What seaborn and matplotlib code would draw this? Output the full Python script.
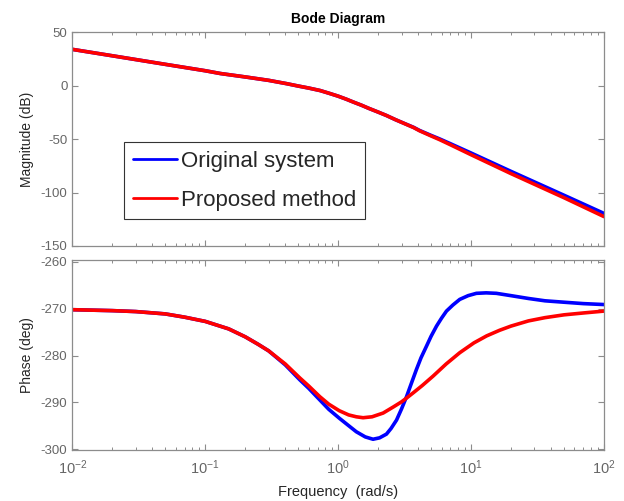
import numpy as np
import pandas as pd
import matplotlib
matplotlib.use("Agg")
import matplotlib.pyplot as plt
import seaborn as sns
from matplotlib.ticker import LogLocator, NullFormatter, FixedLocator

# ---- data ----
mag_freq = [0.01, 0.02, 0.05, 0.1, 0.13, 0.2, 0.3, 0.41, 0.5, 0.6, 0.73, 0.85, 1.0, 1.15,
            1.3, 1.5, 1.7, 2.0, 2.3, 2.7, 3.2, 3.7, 4.1, 5.0, 5.8, 7.0, 10.0, 20.0, 50.0, 100.0]
mag_original = [34.0, 28.0, 20.0, 14.0, 11.4, 8.2, 5.0, 1.9, -0.3, -2.2, -4.5, -7.0, -9.8, -12.6,
                -15.3, -18.3, -21.2, -24.7, -27.8, -31.8, -35.7, -39.0, -41.9, -46.5, -49.8,
                -54.3, -63.0, -80.2, -102.5, -119.5]
mag_proposed = [34.0, 28.0, 20.0, 14.0, 11.4, 8.2, 5.0, 1.9, -0.3, -2.2, -4.5, -7.0, -9.8, -12.6,
                -15.3, -18.3, -21.2, -24.7, -27.8, -31.8, -35.8, -39.2, -42.2, -47.0, -50.5,
                -55.3, -64.6, -82.3, -104.8, -122.5]

ph_freq_o = [0.01, 0.02, 0.03, 0.05, 0.07, 0.1, 0.15, 0.2, 0.25, 0.3, 0.4, 0.515, 0.6, 0.728,
             0.85, 1.02, 1.2, 1.37, 1.6, 1.83, 2.05, 2.31, 2.5, 2.75, 3.0, 3.27, 3.55, 3.88,
             4.2, 4.62, 5.0, 5.5, 6.0, 6.53, 7.3, 8.22, 9.5, 10.97, 13.0, 15.5, 20.0, 27.0,
             36.0, 50.0, 70.0, 100.0]
ph_original = [-270.2, -270.4, -270.6, -271.1, -271.8, -272.7, -274.3, -276.0, -277.6, -279.0,
               -282.0, -285.2, -287.0, -289.5, -291.5, -293.4, -295.0, -296.3, -297.4, -297.9,
               -297.6, -296.8, -295.6, -293.8, -291.4, -288.8, -286.0, -283.0, -280.5, -278.0,
               -275.9, -273.7, -272.0, -270.5, -269.2, -268.0, -267.2, -266.7, -266.6, -266.7,
               -267.2, -267.8, -268.3, -268.6, -268.9, -269.1]

ph_freq_p = [0.01, 0.02, 0.03, 0.05, 0.07, 0.1, 0.15, 0.2, 0.25, 0.3, 0.4, 0.515, 0.6, 0.728,
             0.85, 1.02, 1.2, 1.37, 1.54, 1.8, 2.18, 2.6, 3.0, 3.27, 3.7, 4.3, 5.18, 6.5, 8.22,
             10.5, 13.1, 16.4, 20.0, 27.0, 36.0, 50.0, 70.0, 100.0]
ph_proposed = [-270.2, -270.4, -270.6, -271.1, -271.8, -272.7, -274.3, -276.0, -277.6, -279.0,
               -281.8, -284.8, -286.5, -288.8, -290.4, -291.8, -292.7, -293.1, -293.3, -293.1,
               -292.3, -291.0, -289.9, -289.1, -287.9, -286.4, -284.4, -281.8, -279.4, -277.3,
               -275.8, -274.6, -273.7, -272.6, -271.9, -271.3, -270.9, -270.5]

series_names = ["Original system", "Proposed method"]
colors = {"Original system": "#0000ff", "Proposed method": "#ff0000"}

mag_df = pd.DataFrame({
    "w": mag_freq + mag_freq,
    "val": mag_original + mag_proposed,
    "series": [series_names[0]] * len(mag_freq) + [series_names[1]] * len(mag_freq),
})
ph_df = pd.DataFrame({
    "w": ph_freq_o + ph_freq_p,
    "val": ph_original + ph_proposed,
    "series": [series_names[0]] * len(ph_freq_o) + [series_names[1]] * len(ph_freq_p),
})

sns.set_theme(style="ticks")
plt.rcParams["font.family"] = ["Liberation Sans", "DejaVu Sans"]
plt.rcParams["axes.unicode_minus"] = False
plt.rcParams["mathtext.default"] = "regular"

fig = plt.figure(figsize=(6.24, 5.01), dpi=100)
ax1 = fig.add_axes([0.1159, 0.509, 0.852, 0.4266])
ax2 = fig.add_axes([0.1159, 0.1018, 0.852, 0.379])

frame_col = "#8c8c8c"
tick_col = "#666666"
label_col = "#262626"

sns.lineplot(data=mag_df, x="w", y="val", hue="series", palette=colors, ax=ax1,
             estimator=None, sort=False, linewidth=2.6, hue_order=series_names)
sns.lineplot(data=ph_df, x="w", y="val", hue="series", palette=colors, ax=ax2,
             estimator=None, sort=False, linewidth=2.6, hue_order=series_names, legend=False)

for ax in (ax1, ax2):
    ax.set_xscale("log")
    ax.set_xlim(0.01, 100)
    ax.xaxis.set_major_locator(LogLocator(base=10, numticks=10))
    ax.xaxis.set_minor_locator(LogLocator(base=10, subs=np.arange(2, 10), numticks=20))
    ax.xaxis.set_minor_formatter(NullFormatter())
    ax.tick_params(which="both", direction="in", top=True, right=True,
                   color=frame_col, labelcolor=tick_col, labelsize=9.5)
    ax.tick_params(which="major", length=4.5, width=0.8)
    ax.tick_params(which="minor", length=2.5, width=0.7)
    for s in ax.spines.values():
        s.set_color(frame_col)
        s.set_linewidth(0.9)
    ax.set_facecolor("white")

ax2.tick_params(axis="x", which="major", labelsize=10.5, pad=6)

ax1.set_ylim(-150, 50)
ax1.yaxis.set_major_locator(FixedLocator([-150, -100, -50, 0, 50]))
ax1.set_xticklabels([])
ax1.set_xlabel("")
ax1.set_ylabel("Magnitude (dB)", fontsize=10, color=label_col)
ax1.set_title("Bode Diagram", fontsize=10, fontweight="bold", color="#000000", pad=7)

ax2.set_ylim(-300.2, -259.6)
ax2.yaxis.set_major_locator(FixedLocator([-300, -290, -280, -270, -260]))
ax2.set_xlabel("Frequency  (rad/s)", fontsize=10.5, color=label_col, labelpad=6)
ax2.set_ylabel("Phase (deg)", fontsize=10, color=label_col)

ax1.yaxis.set_label_coords(-0.072, 0.5)
ax2.yaxis.set_label_coords(-0.072, 0.5)

handles, labels = ax1.get_legend_handles_labels()
leg = ax1.legend(handles=handles, labels=labels, loc="upper left",
                 bbox_to_anchor=(0.097, 0.487), borderaxespad=0, fontsize=16,
                 frameon=True, fancybox=False, edgecolor="#333333", framealpha=1,
                 handlelength=2.0, handletextpad=0.17, borderpad=0.4, labelspacing=0.8)
leg.get_frame().set_linewidth(0.8)
for line in leg.get_lines():
    line.set_linewidth(2.0)

fig.savefig("out.png", dpi=100, facecolor="white")
